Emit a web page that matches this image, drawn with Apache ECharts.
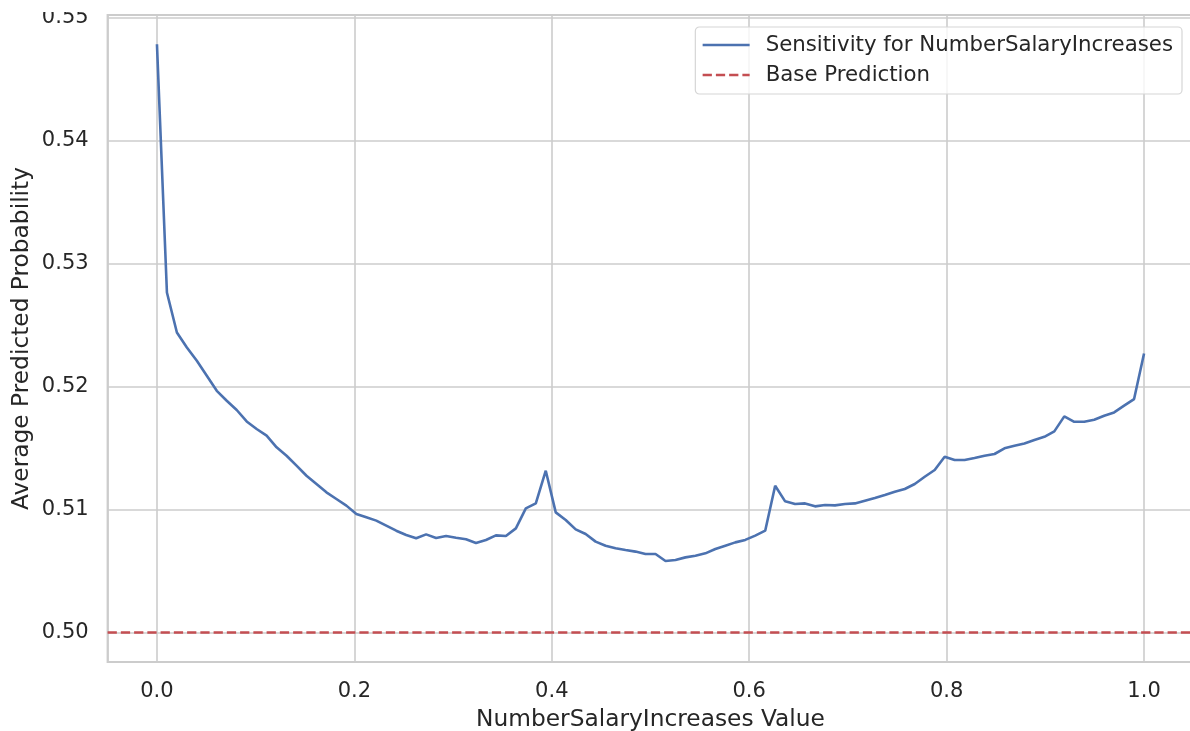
<!DOCTYPE html>
<html>
<head>
<meta charset="utf-8">
<script src="https://cdn.jsdelivr.net/npm/echarts@6/dist/echarts.min.js"></script>
<style>
html,body{margin:0;padding:0;background:#fff;}
#chart{width:1190px;height:731px;}
</style>
</head>
<body>
<div id="chart"></div>
<script>
const xValues = [0, 0.0101, 0.0202, 0.0303, 0.0404, 0.0505, 0.0606, 0.0707, 0.0808, 0.0909,
  0.1010, 0.1111, 0.1212, 0.1313, 0.1414, 0.1515, 0.1616, 0.1717, 0.1818, 0.1919,
  0.2020, 0.2121, 0.2222, 0.2323, 0.2424, 0.2525, 0.2626, 0.2727, 0.2828, 0.2929,
  0.3030, 0.3131, 0.3232, 0.3333, 0.3434, 0.3535, 0.3636, 0.3737, 0.3838, 0.3939,
  0.4040, 0.4141, 0.4242, 0.4343, 0.4444, 0.4545, 0.4646, 0.4747, 0.4848, 0.4949,
  0.5051, 0.5152, 0.5253, 0.5354, 0.5455, 0.5556, 0.5657, 0.5758, 0.5859, 0.5960,
  0.6061, 0.6162, 0.6263, 0.6364, 0.6465, 0.6566, 0.6667, 0.6768, 0.6869, 0.6970,
  0.7071, 0.7172, 0.7273, 0.7374, 0.7475, 0.7576, 0.7677, 0.7778, 0.7879, 0.7980,
  0.8081, 0.8182, 0.8283, 0.8384, 0.8485, 0.8586, 0.8687, 0.8788, 0.8889, 0.8990,
  0.9091, 0.9192, 0.9293, 0.9394, 0.9495, 0.9596, 0.9697, 0.9798, 0.9899, 1.0];

const sensitivity = [0.54786, 0.52767, 0.52441, 0.52320, 0.52211, 0.52089, 0.51967, 0.51886, 0.51811, 0.51718,
  0.51656, 0.51602, 0.51507, 0.51439, 0.51358, 0.51276, 0.51209, 0.51141, 0.51087, 0.51033,
  0.50965, 0.50938, 0.50911, 0.50870, 0.50829, 0.50794, 0.50767, 0.50799, 0.50770, 0.50786,
  0.50772, 0.50759, 0.50729, 0.50753, 0.50791, 0.50786, 0.50848, 0.51011, 0.51052, 0.51317,
  0.50978, 0.50916, 0.50840, 0.50802, 0.50740, 0.50707, 0.50686, 0.50672, 0.50659, 0.50640,
  0.50640, 0.50583, 0.50591, 0.50612, 0.50626, 0.50645, 0.50680, 0.50707, 0.50734, 0.50754,
  0.50789, 0.50829, 0.51195, 0.51068, 0.51046, 0.51051, 0.51027, 0.51038, 0.51035, 0.51046,
  0.51051, 0.51073, 0.51095, 0.51119, 0.51145, 0.51168, 0.51209, 0.51268, 0.51323, 0.51431,
  0.51404, 0.51404, 0.51420, 0.51439, 0.51453, 0.51499, 0.51520, 0.51539, 0.51567, 0.51593,
  0.51637, 0.51759, 0.51715, 0.51715, 0.51732, 0.51764, 0.51791, 0.51846, 0.51900, 0.52271];

const basePrediction = 0.5;
const xTicks = [0.0, 0.2, 0.4, 0.6, 0.8, 1.0];
const yTicks = [0.50, 0.51, 0.52, 0.53, 0.54, 0.55];
const seriesNames = ['Sensitivity for NumberSalaryIncreases', 'Base Prediction'];
const xName = 'NumberSalaryIncreases Value';
const yName = 'Average Predicted Probability';

const FONT = "'DejaVu Sans', sans-serif";
const TXT = '#262626';
const GRID = '#cccccc';

function isTick(v, ticks) {
  return ticks.some(t => Math.abs(t - v) < 1e-6);
}

const chart = echarts.init(document.getElementById('chart'), null, {renderer: 'canvas'});
chart.setOption({
  animation: false,
  backgroundColor: '#ffffff',
  textStyle: {fontFamily: FONT},
  grid: {
    left: 107.6, top: 15, right: -3.4, bottom: 69,
    outerBoundsMode: 'none',
    containLabel: false,
    show: true, borderColor: GRID, borderWidth: 2, backgroundColor: 'transparent'
  },
  legend: {
    right: 8, top: 27,
    orient: 'vertical',
    align: 'left',
    backgroundColor: 'rgba(255,255,255,0.8)',
    borderColor: '#d6d6d6', borderWidth: 1.2, borderRadius: 4,
    padding: [7, 9, 8, 6],
    itemWidth: 47, itemHeight: 14, itemGap: 8,
    itemStyle: {opacity: 0},
    lineStyle: {width: 2.6},
    textStyle: {fontFamily: FONT, fontSize: 21.3, color: TXT, lineHeight: 22, padding: [0, 0, 0, 11]},
    data: seriesNames.map(n => ({name: n}))
  },
  graphic: [{
    type: 'rect', left: 0, top: 0, z: 100, silent: true,
    shape: {width: 100, height: 12},
    style: {fill: '#ffffff'}
  }],
  xAxis: {
    type: 'value',
    min: -0.05, max: 1.05,
    name: xName, nameLocation: 'middle', nameGap: 46, nameMoveOverlap: false,
    nameTextStyle: {fontFamily: FONT, fontSize: 23.3, color: TXT},
    axisLine: {show: false}, axisTick: {show: false},
    axisLabel: {
      fontFamily: FONT, fontSize: 21, color: TXT, margin: 19,
      showMinLabel: false, showMaxLabel: false,
      formatter: v => isTick(v, xTicks) ? v.toFixed(1) : ''
    },
    splitLine: {show: true, lineStyle: {color: GRID, width: 1.6}}
  },
  yAxis: {
    type: 'value',
    min: 0.49761, max: 0.55024,
    name: yName, nameLocation: 'middle', nameGap: 74, nameMoveOverlap: false,
    nameTextStyle: {fontFamily: FONT, fontSize: 23.3, color: TXT},
    axisLine: {show: false}, axisTick: {show: false},
    axisLabel: {
      fontFamily: FONT, fontSize: 21, color: TXT, margin: 19,
      showMinLabel: false, showMaxLabel: false,
      formatter: v => isTick(v, yTicks) ? v.toFixed(2) : ''
    },
    splitLine: {show: true, lineStyle: {color: GRID, width: 1.6}}
  },
  series: [
    {
      name: seriesNames[0],
      type: 'line',
      data: xValues.map((x, i) => [x, sensitivity[i]]),
      showSymbol: false, symbol: 'none',
      lineStyle: {color: '#4c72b0', width: 2.6},
      itemStyle: {color: '#4c72b0'},
      z: 3
    },
    {
      name: seriesNames[1],
      type: 'line',
      data: [],
      symbol: 'none',
      lineStyle: {color: '#c44e52', width: 2.6, type: [9.25, 4]},
      itemStyle: {color: '#c44e52'},
      markLine: {
        silent: true, symbol: 'none', label: {show: false},
        lineStyle: {color: '#c44e52', width: 2.6, type: [9.25, 4]},
        data: [{yAxis: basePrediction}]
      },
      z: 2
    }
  ]
});
</script>
</body>
</html>
